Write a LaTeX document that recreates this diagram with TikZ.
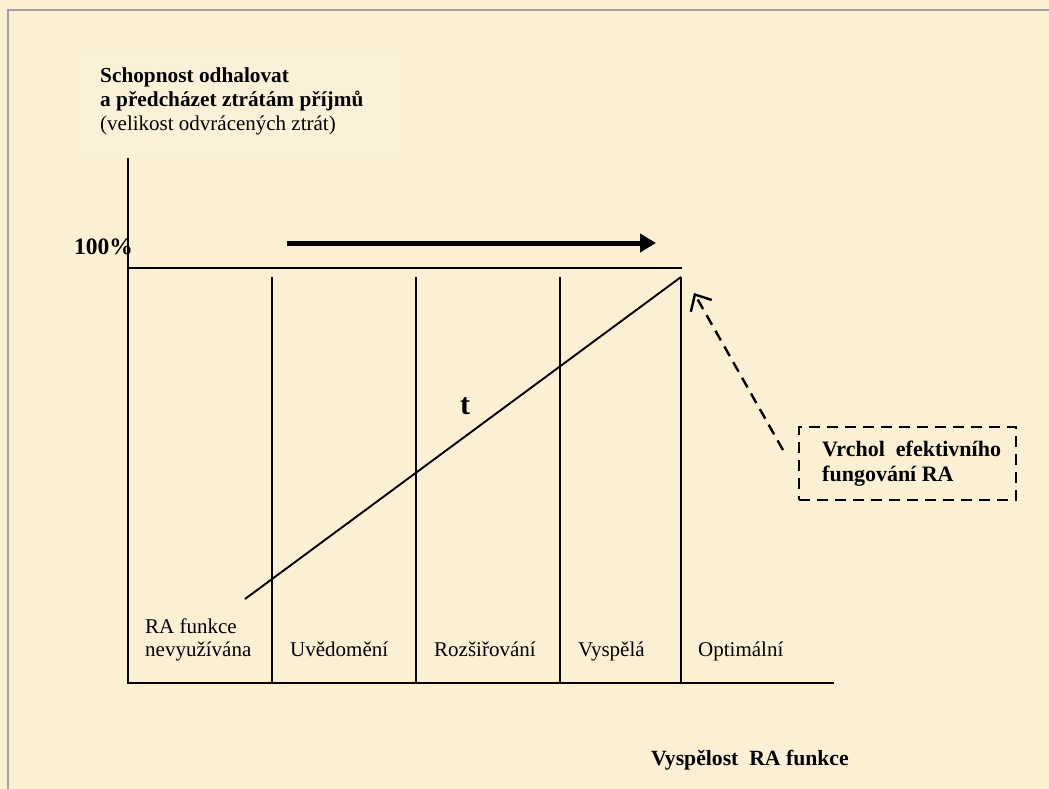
\documentclass[tikz,border=0pt]{standalone}
\usepackage{fontspec}
\setmainfont{Liberation Serif}
\usetikzlibrary{arrows.meta}
\definecolor{paper}{HTML}{FBEFD4}
\definecolor{frame}{HTML}{A2A2A2}
\tikzset{
  axisline/.style={line width=1.9pt},
  label/.style={font=\fontsize{21}{24}\selectfont, inner sep=0pt, anchor=base west},
  boldlabel/.style={label, font=\fontsize{21.3}{24}\selectfont\bfseries},
  stagelabel/.style={label, font=\fontsize{21}{23}\selectfont, align=left},
  dashline/.style={line width=2.4pt, dash pattern=on 11pt off 7pt},
}
\begin{document}
\begin{tikzpicture}[x=1pt,y=-1pt]
  % page and background
  \useasboundingbox (0,0) rectangle (1049,789);
  \fill[paper] (0,0) rectangle (1049,789);
  \fill[white!12!paper] (80,50) rectangle (400,158);
  \draw[frame, line width=2pt] (8,789) -- (8,10) -- (1049,10);

  % vertical axis title
  \node[boldlabel] (t1) at (100,83) {Schopnost odhalovat};
  \node[boldlabel] (t2) at (100,107) {a předcházet ztrátám příjmů};
  \node[label] (t3) at (100,131) {(velikost odvrácených ztrát)};

  % axes and grid
  \coordinate (ytop) at (128,158);
  \coordinate (origin) at (128,683);
  \coordinate (xend) at (834,683);
  \coordinate (full) at (128,268);
  \coordinate (fullend) at (682,268);
  \draw[axisline] (ytop) -- (origin) -- (xend);
  \draw[axisline] (full) -- (fullend);
  \foreach \x/\n in {272/a,416/b,560/c}{
    \coordinate (d\n) at (\x,277);
    \draw[axisline] (d\n) -- (\x,683);
  }
  \coordinate (peak) at (681,277);
  \draw[axisline] (peak) -- (681,683);

  % growth line
  \coordinate (low) at (245,599);
  \draw[axisline] (low) -- (peak);

  % time arrow
  \coordinate (ta) at (287,243);
  \coordinate (tb) at (656,243);
  \draw[line width=5pt, -{Triangle[length=16pt,width=18pt]}] (ta) -- (tb);

  \node[boldlabel, font=\fontsize{23.5}{24}\selectfont\bfseries, anchor=base east]
        (pct) at (133,254) {100\%};
  \node[font=\fontsize{30}{30}\selectfont\bfseries, inner sep=0pt] (tt) at (465,406) {t};

  % stage labels
  \node[stagelabel] (s1) at (145,633) {RA funkce};
  \node[stagelabel] (s1b) at (145,656) {nevyužívána};
  \node[stagelabel] (s2) at (290,656) {Uvědomění};
  \node[stagelabel] (s3) at (434,656) {Rozšiřování};
  \node[stagelabel] (s4) at (578,656) {Vyspělá};
  \node[stagelabel] (s5) at (698,656) {Optimální};

  % horizontal axis title
  \node[boldlabel, font=\fontsize{21.7}{24}\selectfont\bfseries] (xt) at (651,765) {Vyspělost\ \ RA funkce};

  % peak note
  \node[draw, dashline, minimum width=217pt, minimum height=73pt, inner sep=0pt]
        (note) at (907.5,463.5) {};
  \node[boldlabel, font=\fontsize{22}{24}\selectfont\bfseries] (n1) at (822,456) {Vrchol\ \ efektivního};
  \node[boldlabel, font=\fontsize{22}{24}\selectfont\bfseries] (n2) at (822,481) {fungování RA};
  \coordinate (nstart) at (783,450);
  \coordinate (ntip) at (694,293);
  \draw[dashline, -{Straight Barb[length=13pt,width=24pt,line width=2.4pt]}] (nstart) -- (ntip);
\end{tikzpicture}
\end{document}
